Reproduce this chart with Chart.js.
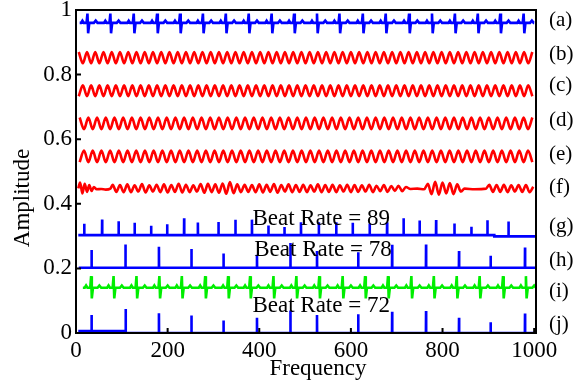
<!DOCTYPE html>
<html>
<head>
<meta charset="utf-8">
<script src="https://cdn.jsdelivr.net/npm/chart.js@4.4.1/dist/chart.umd.min.js"></script>
<style>
  html, body { margin: 0; padding: 0; background: #fff; }
  #wrap { width: 575px; height: 383px; }
</style>
</head>
<body>
<div id="wrap"><canvas id="sig" width="575" height="383"></canvas></div>
<script>
// axis ticks
const xTicks = [0, 200, 400, 600, 800, 1000];
const yTicks = [0, 0.2, 0.4, 0.6, 0.8, 1];

// row labels on the right, at amplitude values
const rowLabels = ['(a)', '(b)', '(c)', '(d)', '(e)', '(f)', '(g)', '(h)', '(i)', '(j)'];
const rowLabelY = [0.966, 0.861, 0.765, 0.659, 0.554, 0.452, 0.331, 0.223, 0.130, 0.025];

// beat rate notes (x in frequency units, y is text baseline)
const beatText = ['Beat Rate = 89', 'Beat Rate = 78', 'Beat Rate = 72'];
const beatTextX = [385, 389, 385];
const beatTextY = [0.334, 0.237, 0.066];

// (a) and (i): ECG-like traces, R peak positions
const aBeats = [25, 75, 126, 177, 227, 277, 327, 377, 427, 476, 526, 575, 626, 676, 727, 777, 827, 877, 926, 977];
const iBeats = [33, 82, 132, 182, 231, 282, 332, 380, 431, 481, 531, 582, 631, 681, 732, 781, 831, 881, 932, 982];
const beatDX = [-14, -11, -8, -2, 0, 1.5, 4, 14, 18, 22];
const aShape = [0, 0.007, 0, 0, 0.029, -0.032, 0, 0, 0.007, 0];
const iShape = [0, 0.007, 0, 0, 0.036, -0.033, 0, 0, 0.007, 0];
const aBase = 0.960;
const iBase = 0.140;

// (b)-(e): sinusoids, sampled at peaks and troughs
const gridA = [6,15,24,33,42,51,60,69,78,87,
  96,105,114,123,132,141,150,159,168,177,
  186,195,204,213,222,231,240,249,258,267,
  276,285,294,303,312,321,330,339,348,357,
  366,375,384,393,402,411,420,429,438,447,
  456,465,474,483,492,501,510,519,528,537,
  546,555,564,573,582,591,600,609,618,627,
  636,645,654,663,672,681,690,699,708,717,
  726,735,744,753,762,771,780,789,798,807,
  816,825,834,843,852,861,870,879,888,897,
  906,915,924,933,942,951,960,969,978,987,
  996];
const gridB = [8,17.5,27,36.5,46,55.5,65,74.5,84,93.5,
  103,112.5,122,131.5,141,150.5,160,169.5,179,188.5,
  198,207.5,217,226.5,236,245.5,255,264.5,274,283.5,
  293,302.5,312,321.5,331,340.5,350,359.5,369,378.5,
  388,397.5,407,416.5,426,435.5,445,454.5,464,473.5,
  483,492.5,502,511.5,521,530.5,540,549.5,559,568.5,
  578,587.5,597,606.5,616,625.5,635,644.5,654,663.5,
  673,682.5,692,701.5,711,720.5,730,739.5,749,758.5,
  768,777.5,787,796.5,806,815.5,825,834.5,844,853.5,
  863,872.5,882,891.5,901,910.5,920,929.5,939,948.5,
  958,967.5,977,986.5,996];
const sineB = [0.87,0.835,0.87,0.835,0.87,0.835,0.87,0.835,0.87,0.835,
  0.87,0.835,0.87,0.835,0.87,0.835,0.87,0.835,0.87,0.835,
  0.87,0.835,0.87,0.835,0.87,0.835,0.87,0.835,0.87,0.835,
  0.87,0.835,0.87,0.835,0.87,0.835,0.87,0.835,0.87,0.835,
  0.87,0.835,0.87,0.835,0.87,0.835,0.87,0.835,0.87,0.835,
  0.87,0.835,0.87,0.835,0.87,0.835,0.87,0.835,0.87,0.835,
  0.87,0.835,0.87,0.835,0.87,0.835,0.87,0.835,0.87,0.835,
  0.87,0.835,0.87,0.835,0.87,0.835,0.87,0.835,0.87,0.835,
  0.87,0.835,0.87,0.835,0.87,0.835,0.87,0.835,0.87,0.835,
  0.87,0.835,0.87,0.835,0.87,0.835,0.87,0.835,0.87,0.835,
  0.87,0.835,0.87,0.835,0.87,0.835,0.87,0.835,0.87,0.835,
  0.87];
const sineC = [0.733,0.767,0.733,0.767,0.733,0.767,0.733,0.767,0.733,0.767,
  0.733,0.767,0.733,0.767,0.733,0.767,0.733,0.767,0.733,0.767,
  0.733,0.767,0.733,0.767,0.733,0.767,0.733,0.767,0.733,0.767,
  0.733,0.767,0.733,0.767,0.733,0.767,0.733,0.767,0.733,0.767,
  0.733,0.767,0.733,0.767,0.733,0.767,0.733,0.767,0.733,0.767,
  0.733,0.767,0.733,0.767,0.733,0.767,0.733,0.767,0.733,0.767,
  0.733,0.767,0.733,0.767,0.733,0.767,0.733,0.767,0.733,0.767,
  0.733,0.767,0.733,0.767,0.733,0.767,0.733,0.767,0.733,0.767,
  0.733,0.767,0.733,0.767,0.733,0.767,0.733,0.767,0.733,0.767,
  0.733,0.767,0.733,0.767,0.733,0.767,0.733,0.767,0.733,0.767,
  0.733,0.767,0.733,0.767,0.733,0.767,0.733,0.767,0.733,0.767,
  0.733];
const sineD = [0.667,0.631,0.667,0.631,0.667,0.631,0.667,0.631,0.667,0.631,
  0.667,0.631,0.667,0.631,0.667,0.631,0.667,0.631,0.667,0.631,
  0.667,0.631,0.667,0.631,0.667,0.631,0.667,0.631,0.667,0.631,
  0.667,0.631,0.667,0.631,0.667,0.631,0.667,0.631,0.667,0.631,
  0.667,0.631,0.667,0.631,0.667,0.631,0.667,0.631,0.667,0.631,
  0.667,0.631,0.667,0.631,0.667,0.631,0.667,0.631,0.667,0.631,
  0.667,0.631,0.667,0.631,0.667,0.631,0.667,0.631,0.667,0.631,
  0.667,0.631,0.667,0.631,0.667,0.631,0.667,0.631,0.667,0.631,
  0.667,0.631,0.667,0.631,0.667,0.631,0.667,0.631,0.667,0.631,
  0.667,0.631,0.667,0.631,0.667,0.631,0.667,0.631,0.667,0.631,
  0.667,0.631,0.667,0.631,0.667];
const sineE = [0.529,0.565,0.529,0.565,0.529,0.565,0.529,0.565,0.529,0.565,
  0.529,0.565,0.529,0.565,0.529,0.565,0.529,0.565,0.529,0.565,
  0.529,0.565,0.529,0.565,0.529,0.565,0.529,0.565,0.529,0.565,
  0.529,0.565,0.529,0.565,0.529,0.565,0.529,0.565,0.529,0.565,
  0.529,0.565,0.529,0.565,0.529,0.565,0.529,0.565,0.529,0.565,
  0.529,0.565,0.529,0.565,0.529,0.565,0.529,0.565,0.529,0.565,
  0.529,0.565,0.529,0.565,0.529,0.565,0.529,0.565,0.529,0.565,
  0.529,0.565,0.529,0.565,0.529,0.565,0.529,0.565,0.529,0.565,
  0.529,0.565,0.529,0.565,0.529,0.565,0.529,0.565,0.529,0.565,
  0.529,0.565,0.529,0.565,0.529,0.565,0.529,0.565,0.529,0.565,
  0.529,0.565,0.529,0.565,0.529];

// (f): irregular red trace
const noiseX = [5,9,14,19,24,29,34,39,45,55,65,75,
  80,88,96,104,112,120,128,136,144,152,160,168,176,184,192,200,208,216,224,232,240,248,256,264,272,280,288,296,304,312,
  320,328,336,344,
  352,360,368,376,384,392,400,408,416,424,432,440,448,456,464,472,480,488,496,504,512,520,528,536,544,552,560,568,576,584,592,600,608,616,624,632,640,648,656,664,672,680,688,696,704,712,720,
  730,745,760,
  768,776,784,792,800,808,816,824,832,840,
  848,870,895,
  902,910,918,926,934,942,950,958,966,974,982,990,998];
const noiseY = [0.448,0.466,0.432,0.462,0.437,0.458,0.440,0.452,0.445,0.446,0.444,0.447,
  0.459,0.437,0.458,0.436,0.460,0.436,0.457,0.438,0.461,0.435,0.457,0.438,0.459,0.436,0.460,0.435,0.458,0.437,0.462,0.435,0.459,0.436,0.457,0.438,0.461,0.434,0.462,0.436,0.460,0.434,
  0.463,0.431,0.467,0.433,
  0.460,0.436,0.459,0.437,0.458,0.436,0.460,0.435,0.459,0.437,0.461,0.434,0.458,0.438,0.460,0.436,0.458,0.437,0.459,0.436,0.457,0.438,0.460,0.436,0.458,0.437,0.459,0.436,0.457,0.438,0.459,0.436,0.458,0.437,0.457,0.438,0.459,0.436,0.456,0.439,0.458,0.437,0.455,0.440,0.456,0.439,0.452,
  0.446,0.447,0.445,
  0.462,0.430,0.468,0.428,0.466,0.432,0.464,0.430,0.460,0.438,
  0.447,0.445,0.447,
  0.459,0.437,0.458,0.437,0.459,0.436,0.457,0.438,0.458,0.437,0.458,0.436,0.453];

// (g), (h), (j): beat spikes
const gPos = [18,57,93,128,164,199,236,266,311,348,384,420,455,491,530,568,604,641,679,715,750,786,826,863,898,944];
const gH = [0.035,0.048,0.043,0.038,0.029,0.034,0.052,0.039,0.041,0.048,0.048,0.030,0.025,0.040,0.040,0.040,0.038,0.036,0.040,0.052,0.045,0.047,0.036,0.026,0.046,0.046];
const gBaseX = [5, 913, 1004];
const gBaseY = [0.303, 0.299];
const hPos = [34,108,181,252,322,395,468,526,616,690,764,836,905,980];
const hH = [0.055,0.072,0.065,0.058,0.044,0.040,0.077,0.052,0.048,0.071,0.072,0.052,0.037,0.063];
const hBaseX = [6, 1004];
const hBaseY = [0.202];
const jPos = [34,108,181,252,322,395,468,526,616,690,764,836,905,980];
const jH = [0.050,0.068,0.061,0.054,0.039,0.047,0.070,0.056,0.058,0.066,0.068,0.047,0.033,0.060];
const jBaseX = [5, 109, 1004];
const jBaseY = [0.006, 0];

function pairs(xs, ys) {
  const n = Math.min(xs.length, ys.length);
  const out = [];
  for (let i = 0; i < n; i++) out.push({x: xs[i], y: ys[i]});
  return out;
}

function ecg(beats, shape, base, start, end) {
  const pts = [{x: start, y: base}];
  beats.forEach(b => beatDX.forEach((dx, i) => pts.push({x: b + dx, y: base + shape[i]})));
  pts.push({x: end, y: base});
  return pts;
}

function spikeRow(pos, h, baseX, baseY) {
  const level = x => {
    let k = 0;
    while (k < baseY.length - 1 && x >= baseX[k + 1]) k++;
    return baseY[k];
  };
  const pts = [];
  for (let k = 0; k < baseY.length; k++) {
    pts.push({x: baseX[k], y: baseY[k]}, {x: baseX[k + 1], y: baseY[k]});
  }
  pos.forEach((p, i) => {
    const b = level(p);
    pts.push({x: p - 0.3, y: b}, {x: p, y: b + h[i]}, {x: p + 0.3, y: b});
  });
  return pts.sort((u, v) => u.x - v.x);
}

const BLUE = '#0000ff', RED = '#ff0000', GREEN = '#00ee00';
const straight = {tension: 0, borderWidth: 2.6};
const smooth = {cubicInterpolationMode: 'monotone', borderWidth: 2.6};

const datasets = [
  {data: ecg(aBeats, aShape, aBase, 8, 1000), borderColor: BLUE, ...straight},
  {data: pairs(gridA, sineB), borderColor: RED, ...smooth},
  {data: pairs(gridA, sineC), borderColor: RED, ...smooth},
  {data: pairs(gridB, sineD), borderColor: RED, ...smooth},
  {data: pairs(gridB, sineE), borderColor: RED, ...smooth},
  {data: pairs(noiseX, noiseY), borderColor: RED, ...smooth},
  {data: spikeRow(gPos, gH, gBaseX, gBaseY), borderColor: BLUE, ...straight},
  {data: spikeRow(hPos, hH, hBaseX, hBaseY), borderColor: BLUE, ...straight},
  {data: ecg(iBeats, iShape, iBase, 15, 1004), borderColor: GREEN, ...straight},
  {data: spikeRow(jPos, jH, jBaseX, jBaseY), borderColor: BLUE, ...straight}
];

const SERIF = '"Liberation Serif", "Times New Roman", serif';
Chart.defaults.font.family = SERIF;
Chart.defaults.color = '#000';

// frame, inward ticks, notes, row labels and axis titles
const decor = {
  id: 'decor',
  afterDatasetsDraw(chart) {
    const {ctx, chartArea: a, scales: {x, y}} = chart;
    ctx.save();
    ctx.strokeStyle = '#000';
    ctx.lineWidth = 2;
    ctx.strokeRect(a.left, a.top, a.right - a.left, a.bottom - a.top);
    ctx.beginPath();
    xTicks.forEach(v => {
      const px = x.getPixelForValue(v);
      ctx.moveTo(px, a.bottom);
      ctx.lineTo(px, a.bottom - 5);
    });
    yTicks.forEach(v => {
      const py = y.getPixelForValue(v);
      ctx.moveTo(a.left, py);
      ctx.lineTo(a.left + 5, py);
    });
    ctx.stroke();

    ctx.fillStyle = '#000';
    ctx.font = '23px ' + SERIF;
    ctx.textBaseline = 'alphabetic';
    beatText.forEach((t, i) => {
      ctx.fillText(t, x.getPixelForValue(beatTextX[i]), y.getPixelForValue(beatTextY[i]));
    });

    ctx.font = '21px ' + SERIF;
    ctx.textBaseline = 'middle';
    rowLabels.forEach((t, i) => {
      ctx.fillText(t, a.right + 13, y.getPixelForValue(rowLabelY[i]));
    });

    ctx.font = '23px ' + SERIF;
    ctx.textAlign = 'center';
    ctx.fillText('Frequency', 318, 369);
    ctx.translate(23, 198);
    ctx.rotate(-Math.PI / 2);
    ctx.fillText('Amplitude', 0, 0);
    ctx.restore();
  }
};

new Chart(document.getElementById('sig'), {
  type: 'line',
  data: {datasets},
  options: {
    responsive: false,
    animation: false,
    events: [],
    layout: {padding: {top: 10, right: 39, left: 0, bottom: 0}},
    elements: {point: {radius: 0}},
    plugins: {legend: {display: false}, tooltip: {enabled: false}},
    scales: {
      x: {
        type: 'linear',
        min: 0,
        max: 1004,
        grid: {display: false, drawTicks: false},
        border: {display: false},
        ticks: {font: {size: 23}, padding: 4, autoSkip: false, maxRotation: 0, callback: v => String(v)},
        afterBuildTicks: s => { s.ticks = xTicks.map(v => ({value: v})); },
        afterFit: s => { s.height = 50; s.paddingLeft = 0; s.paddingRight = 0; }
      },
      y: {
        min: 0,
        max: 1,
        grid: {display: false, drawTicks: false},
        border: {display: false},
        ticks: {font: {size: 23}, padding: 4, callback: v => String(v)},
        afterBuildTicks: s => { s.ticks = yTicks.map(v => ({value: v})); },
        afterFit: s => { s.width = 76; s.paddingTop = 0; s.paddingBottom = 0; }
      }
    }
  },
  plugins: [decor]
});
</script>
</body>
</html>
